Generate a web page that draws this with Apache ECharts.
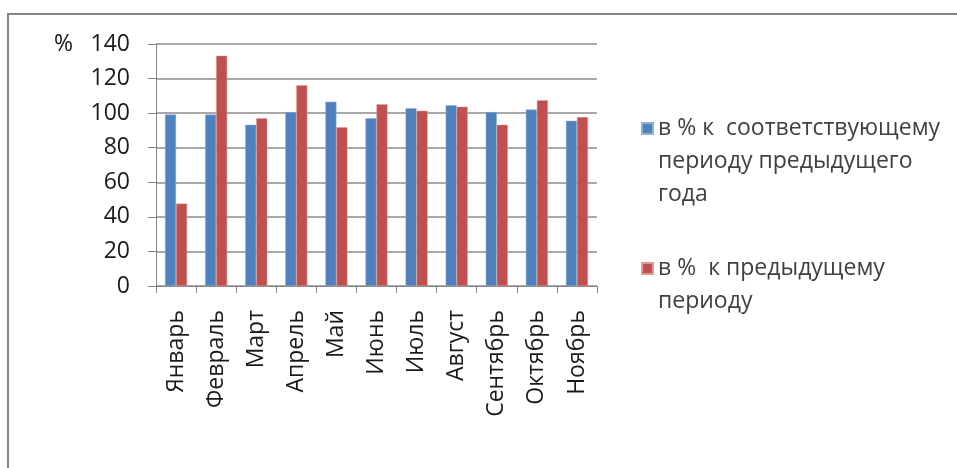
<!DOCTYPE html>
<html>
<head>
<meta charset="utf-8">
<script src="https://cdn.jsdelivr.net/npm/echarts@6/dist/echarts.min.js"></script>
<style>
html,body{margin:0;padding:0;background:#fff;}
#chart{width:957px;height:468px;}
</style>
</head>
<body>
<div id="chart"></div>
<script>
var categories = ['Январь','Февраль','Март','Апрель','Май','Июнь','Июль','Август','Сентябрь','Октябрь','Ноябрь'];
var seriesNames = ['в % к  соответствующему периоду предыдущего года', 'в %  к предыдущему периоду'];
var legendLines = [['в % к  соответствующему','периоду предыдущего','года'], ['в %  к предыдущему','периоду']];
var valuesPrevYear = [99.2, 99.2, 93.3, 100.6, 106.6, 97.1, 102.9, 104.5, 100.6, 102.1, 95.6];
var valuesPrevPeriod = [47.7, 133.2, 97.1, 116.2, 91.9, 105.2, 101.4, 103.7, 93.3, 107.4, 97.7];
var yTicks = {min: 0, max: 140, interval: 20};

var chart = echarts.init(document.getElementById('chart'), null, {renderer: 'canvas'});
var font = '"Open Sans", "Liberation Sans", Arial, sans-serif';
function legendFormatter(name) {
  var i = seriesNames.indexOf(name);
  var lines = legendLines[i];
  // leading blank lines so the first text line sits level with the legend square
  var pad = [];
  for (var k = 1; k < lines.length; k++) pad.push(' ');
  return pad.concat(lines).join('\n');
}
var option = {
  animation: false,
  backgroundColor: '#ffffff',
  graphic: [{
    type: 'rect',
    shape: {x: 8, y: 14, width: 1200, height: 800},
    style: {fill: 'none', stroke: '#858585', lineWidth: 2},
    silent: true
  }],
  grid: {left: 156, right: 360, top: 44, bottom: 182, containLabel: false},
  legend: [{
    data: [seriesNames[0]],
    orient: 'vertical',
    left: 636,
    top: 41,
    itemWidth: 11,
    itemHeight: 11,
    itemGap: 0,
    icon: 'rect',
    formatter: legendFormatter,
    textStyle: {fontFamily: font, fontSize: 23, color: '#404040', lineHeight: 33}
  }, {
    data: [seriesNames[1]],
    orient: 'vertical',
    left: 636,
    top: 214,
    itemWidth: 11,
    itemHeight: 11,
    itemGap: 0,
    icon: 'rect',
    formatter: legendFormatter,
    textStyle: {fontFamily: font, fontSize: 23, color: '#404040', lineHeight: 33}
  }],
  xAxis: {
    type: 'category',
    data: categories,
    boundaryGap: true,
    axisLine: {lineStyle: {color: '#868686', width: 1}},
    axisTick: {show: true, alignWithLabel: false, length: 7, lineStyle: {color: '#868686'}},
    axisLabel: {rotate: 90, interval: 0, margin: 24, fontFamily: font, fontSize: 23, color: '#1a1a1a'}
  },
  yAxis: {
    type: 'value',
    min: yTicks.min,
    max: yTicks.max,
    interval: yTicks.interval,
    name: '%',
    nameLocation: 'end',
    nameGap: 0,
    nameTextStyle: {fontFamily: font, fontSize: 23, color: '#111111', align: 'right', verticalAlign: 'middle', padding: [0, 83, 0, 0]},
    axisLine: {show: true, lineStyle: {color: '#868686', width: 1}},
    axisTick: {show: true, length: 8, lineStyle: {color: '#868686'}},
    axisLabel: {margin: 26, fontFamily: font, fontSize: 23, color: '#1a1a1a'},
    splitLine: {show: true, lineStyle: {color: '#8c8c8c', width: 1.5}}
  },
  series: [{
    name: seriesNames[0],
    type: 'bar',
    data: valuesPrevYear,
    barGap: '0%',
    barCategoryGap: '45%',
    itemStyle: {color: '#4F81BD', borderColor: '#8FB0D8', borderWidth: 0.5}
  }, {
    name: seriesNames[1],
    type: 'bar',
    data: valuesPrevPeriod,
    itemStyle: {color: '#C0504D', borderColor: '#E09A98', borderWidth: 0.5}
  }]
};
chart.setOption(option);
</script>
</body>
</html>
